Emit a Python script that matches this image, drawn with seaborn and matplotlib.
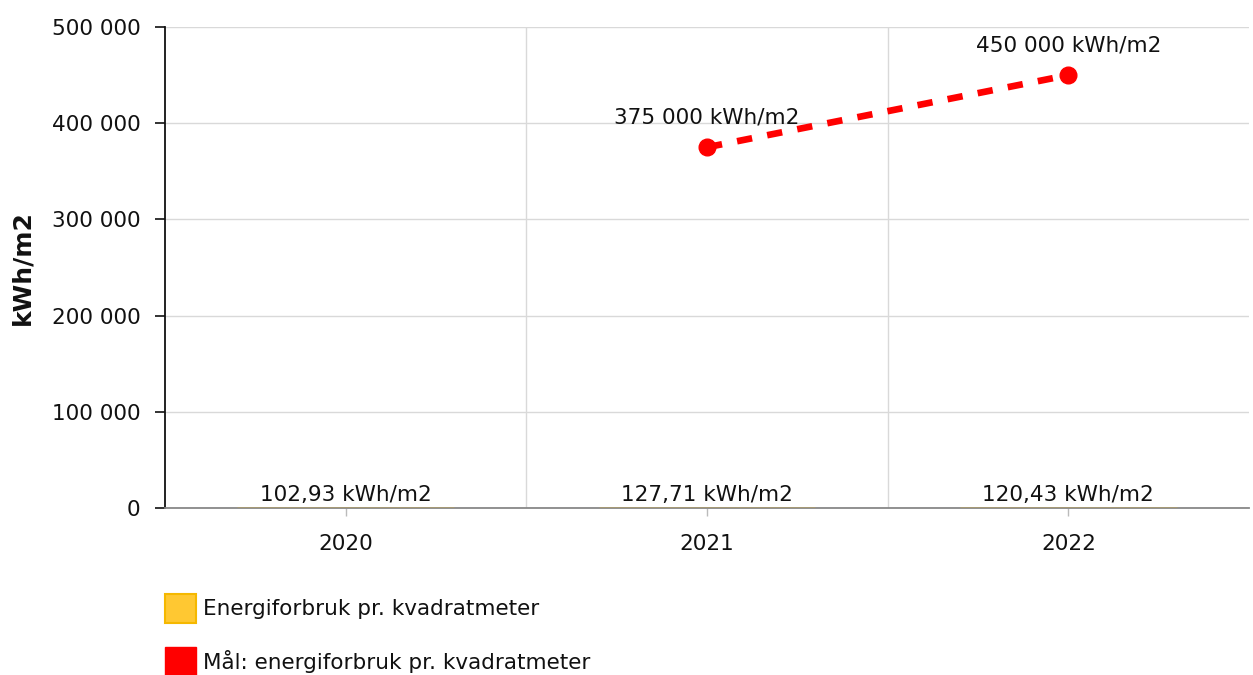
import matplotlib
matplotlib.use("Agg")
import matplotlib.pyplot as plt
import matplotlib.ticker as mticker
from matplotlib.patches import Patch
import seaborn as sns
import pandas as pd

years = ["2020", "2021", "2022"]
usage = [102.93, 127.71, 120.43]
goal_years = ["2021", "2022"]
goal = [375000, 450000]
y_ticks = [0, 100000, 200000, 300000, 400000, 500000]
series_names = ["Energiforbruk pr. kvadratmeter", "Mål: energiforbruk pr. kvadratmeter"]
y_title = "kWh/m2"

sns.set_theme(style="white")
plt.rcParams["font.family"] = ["DejaVu Sans"]
FS = 15.5

fig = plt.figure(figsize=(12.53, 6.75), dpi=100)
ax = fig.add_axes([165 / 1253, 1 - 508 / 675, (1249 - 165) / 1253, (508 - 27) / 675])

df = pd.DataFrame({"year": years, "usage": usage})
sns.barplot(data=df, x="year", y="usage", ax=ax, color="#FFC832",
            edgecolor="#F5B800", linewidth=1, width=0.6, zorder=3)

gx = [years.index(y) for y in goal_years]
ax.plot(gx, goal, color="#FF0000", linewidth=4.8, linestyle=(0, (2.3, 2.3)),
        marker="o", markersize=12, zorder=4, dash_capstyle="butt")

def fmt(v):
    return f"{v:,.0f}".replace(",", " ")

for i, v in enumerate(usage):
    ax.annotate(f"{v:.2f}".replace(".", ",") + " kWh/m2", (i, v),
                xytext=(0, 3), textcoords="offset pixels", ha="center",
                va="bottom", fontsize=FS, color="#111111", zorder=5)
for x, v in zip(gx, goal):
    ax.annotate(fmt(v) + " kWh/m2", (x, v), xytext=(0, 20),
                textcoords="offset pixels", ha="center", va="bottom",
                fontsize=FS, color="#111111", zorder=5)

ax.set_xlim(-0.5, 2.5)
ax.set_ylim(0, 500000)
ax.set_yticks(y_ticks)
ax.yaxis.set_major_formatter(mticker.FuncFormatter(lambda v, p: fmt(v)))
ax.set_xticks(range(len(years)))
ax.set_xticklabels(years)
ax.set_xticks([0.5, 1.5], minor=True)

ax.grid(False)
ax.yaxis.grid(True, which="major", color="#d9d9d9", linewidth=1, zorder=0)
ax.xaxis.grid(True, which="minor", color="#d9d9d9", linewidth=1, zorder=0)
ax.set_axisbelow(True)

for s in ["top", "right"]:
    ax.spines[s].set_visible(False)
ax.spines["left"].set_color("#111111")
ax.spines["left"].set_linewidth(1.3)
ax.spines["bottom"].set_color("#888888")
ax.spines["bottom"].set_linewidth(1.3)

ax.tick_params(axis="y", which="major", left=True, length=7, width=1.2,
               color="#111111", labelsize=FS, labelcolor="#111111", pad=10.5)
ax.tick_params(axis="x", which="major", bottom=True, length=6, width=1,
               color="#bbbbbb", labelsize=FS, labelcolor="#111111", pad=13)
ax.tick_params(axis="x", which="minor", bottom=False)

ax.set_xlabel("")
ax.set_ylabel(y_title, fontsize=18, fontweight="bold", color="#111111")
ax.yaxis.set_label_coords(-131 / (1249 - 165), 0.5)

handles = [Patch(facecolor="#FFC832", edgecolor="#F5B800", linewidth=1.5),
           Patch(facecolor="#FF0000", edgecolor="#FF0000")]
fig.legend(handles, series_names, loc="upper left",
           bbox_to_anchor=(156 / 1253, 1 - 585 / 675), frameon=False,
           fontsize=FS, handlelength=1.45, handleheight=1.75,
           handletextpad=0.35, labelspacing=1.1, borderaxespad=0,
           labelcolor="#111111")

fig.savefig("out.png", dpi=100)
